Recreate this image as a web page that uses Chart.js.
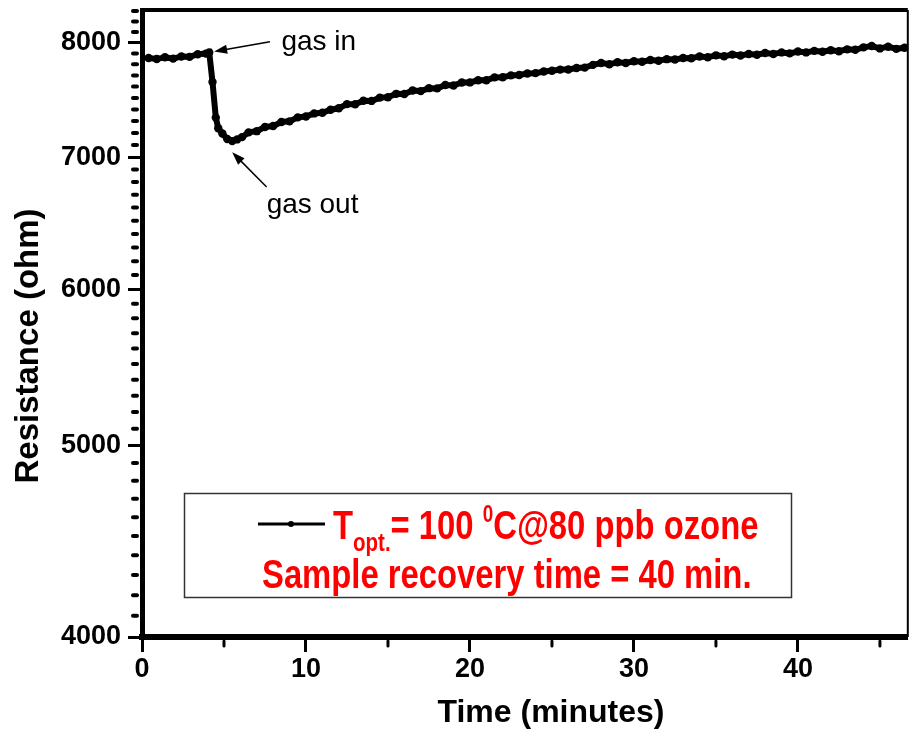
<!DOCTYPE html>
<html>
<head>
<meta charset="utf-8">
<script src="https://cdn.jsdelivr.net/npm/chart.js@4.4.1/dist/chart.umd.min.js"></script>
<style>
  html, body { margin: 0; padding: 0; background: #fff; }
</style>
</head>
<body>
<canvas id="chart" width="912" height="737"></canvas>
<script>
// values
const timeMin = [
  0.4, 0.9, 1.4, 1.9, 2.4, 2.9, 3.4, 3.9, 4.1, 4.3, 4.5, 4.65, 4.9, 5.2, 5.5, 5.8, 6.1,
  6.5, 7.0, 7.5, 8.0, 8.5, 9.0, 9.5, 10.0, 10.5, 11.0, 11.5, 12.0, 12.5, 13.0, 13.5, 14.0,
  14.5, 15.0, 15.5, 16.0, 16.5, 17.0, 17.5, 18.0, 18.5, 19.0, 19.5, 20.0, 20.5, 21.0, 21.5,
  22.0, 22.5, 23.0, 23.5, 24.0, 24.5, 25.0, 25.5, 26.0, 26.5, 27.0, 27.5, 28.0, 28.5, 29.0,
  29.5, 30.0, 30.5, 31.0, 31.5, 32.0, 32.5, 33.0, 33.5, 34.0, 34.5, 35.0, 35.5, 36.0, 36.5,
  37.0, 37.5, 38.0, 38.5, 39.0, 39.5, 40.0, 40.5, 41.0, 41.5, 42.0, 42.5, 43.0, 43.5, 44.0,
  44.5, 45.0, 45.5, 46.0, 46.5
];
const resistance = [
  7858, 7848, 7865, 7852, 7872, 7868, 7892, 7898, 7908, 7640, 7330, 7240, 7195, 7150, 7132, 7146, 7165,
  7205, 7215, 7250, 7258, 7292, 7298, 7332, 7340, 7366, 7372, 7398, 7410, 7446, 7445, 7476, 7474,
  7503, 7506, 7536, 7534, 7566, 7560, 7586, 7584, 7614, 7609, 7636, 7637, 7656, 7657, 7682,
  7683, 7700, 7703, 7717, 7720, 7735, 7741, 7752, 7753, 7767, 7770, 7795, 7812, 7800, 7819,
  7812, 7828, 7824, 7839, 7832, 7847, 7844, 7858, 7855, 7872, 7864, 7882, 7873, 7889, 7881,
  7895, 7887, 7903, 7895, 7909, 7900, 7917, 7909, 7923, 7915, 7929, 7920, 7937, 7933, 7956,
  7968, 7946, 7962, 7942, 7952
];

const xTicks = [0, 10, 20, 30, 40];
const xMinorTicks = [5, 15, 25, 35, 45];
const yTicks = [4000, 5000, 6000, 7000, 8000];
const yMinorTicks = [];
for (let v = 4100; v <= 8300; v += 100) {
  if (v % 1000 !== 0) yMinorTicks.push(v);
}

const xTitle = 'Time (minutes)';
const yTitle = 'Resistance (ohm)';
const legendLine1 = ['T', 'opt.', '= 100 ', '0', 'C@80 ppb ozone'];
const legendLine2 = 'Sample recovery time = 40 min.';

// arrows: tail and tip in data units, label anchor
const notes = [
  { text: 'gas in', tx: 8.5, ty: 7935, from: [7.8, 8009], to: [4.4, 7917] },
  { text: 'gas out', tx: 7.6, ty: 6560, from: [7.6, 6760], to: [5.5, 7040] }
];

const FONT = "'Liberation Sans', Arial, sans-serif";

function arrow(ctx, x1, y1, x2, y2) {
  const ang = Math.atan2(y2 - y1, x2 - x1);
  const head = 13;
  ctx.beginPath();
  ctx.moveTo(x1, y1);
  ctx.lineTo(x2 - Math.cos(ang) * head * 0.8, y2 - Math.sin(ang) * head * 0.8);
  ctx.stroke();
  ctx.beginPath();
  ctx.moveTo(x2, y2);
  ctx.lineTo(x2 - head * Math.cos(ang) + 4.5 * Math.sin(ang), y2 - head * Math.sin(ang) - 4.5 * Math.cos(ang));
  ctx.lineTo(x2 - head * Math.cos(ang) - 4.5 * Math.sin(ang), y2 - head * Math.sin(ang) + 4.5 * Math.cos(ang));
  ctx.closePath();
  ctx.fill();
}

// narrow bold text like the original legend
function squeezed(ctx, text, x, y, size, sx) {
  ctx.save();
  ctx.font = `bold ${size}px ${FONT}`;
  ctx.translate(x, y);
  ctx.scale(sx, 1);
  ctx.fillText(text, 0, 0);
  const w = ctx.measureText(text).width * sx;
  ctx.restore();
  return x + w;
}

const decorations = {
  id: 'decorations',
  afterDraw(chart) {
    const { ctx, chartArea: area, scales: { x, y } } = chart;
    ctx.save();
    ctx.strokeStyle = '#000';
    ctx.fillStyle = '#000';

    // top and right frame
    ctx.lineWidth = 4;
    ctx.beginPath();
    ctx.moveTo(area.left, area.top);
    ctx.lineTo(area.right, area.top);
    ctx.stroke();
    ctx.lineWidth = 2;
    ctx.beginPath();
    ctx.moveTo(area.right, area.top);
    ctx.lineTo(area.right, area.bottom);
    ctx.stroke();

    // minor ticks
    ctx.lineCap = 'round';
    ctx.lineWidth = 4;
    yMinorTicks.forEach(v => {
      const py = y.getPixelForValue(v);
      ctx.beginPath();
      ctx.moveTo(area.left - 9, py);
      ctx.lineTo(area.left - 5, py);
      ctx.stroke();
    });
    ctx.lineWidth = 3;
    xMinorTicks.forEach(v => {
      const px = x.getPixelForValue(v);
      ctx.beginPath();
      ctx.moveTo(px, area.bottom + 4);
      ctx.lineTo(px, area.bottom + 9);
      ctx.stroke();
    });
    ctx.lineCap = 'butt';

    // axis titles
    ctx.font = `bold 32px ${FONT}`;
    ctx.textAlign = 'center';
    ctx.textBaseline = 'alphabetic';
    ctx.fillText(xTitle, 551, 722);
    ctx.save();
    ctx.translate(29, 346);
    ctx.rotate(-Math.PI / 2);
    ctx.font = `bold 33px ${FONT}`;
    ctx.textBaseline = 'middle';
    ctx.fillText(yTitle, 0, 0);
    ctx.restore();

    // annotations
    ctx.textAlign = 'left';
    ctx.textBaseline = 'alphabetic';
    ctx.font = `28px ${FONT}`;
    ctx.lineWidth = 1.5;
    notes.forEach(n => {
      ctx.fillText(n.text, x.getPixelForValue(n.tx), y.getPixelForValue(n.ty));
      arrow(ctx,
        x.getPixelForValue(n.from[0]), y.getPixelForValue(n.from[1]),
        x.getPixelForValue(n.to[0]), y.getPixelForValue(n.to[1]));
    });

    // legend box
    ctx.strokeStyle = '#333';
    ctx.lineWidth = 1.5;
    ctx.strokeRect(184.5, 493.5, 607, 104);
    ctx.strokeStyle = '#000';
    ctx.lineWidth = 3;
    ctx.beginPath();
    ctx.moveTo(258, 524);
    ctx.lineTo(325, 524);
    ctx.stroke();
    ctx.beginPath();
    ctx.arc(291, 524, 3, 0, Math.PI * 2);
    ctx.fill();

    ctx.fillStyle = '#ff0000';
    let cx = squeezed(ctx, legendLine1[0], 333, 539, 40, 0.82);
    cx = squeezed(ctx, legendLine1[1], cx, 551, 25, 0.82);
    cx = squeezed(ctx, legendLine1[2], cx, 539, 40, 0.82);
    cx = squeezed(ctx, legendLine1[3], cx, 522, 23, 0.82);
    squeezed(ctx, legendLine1[4], cx, 539, 40, 0.82);
    squeezed(ctx, legendLine2, 262, 588, 40, 0.82);

    ctx.restore();
  }
};

new Chart(document.getElementById('chart'), {
  type: 'line',
  data: {
    datasets: [{
      data: timeMin.map((t, i) => ({ x: t, y: resistance[i] })),
      borderColor: '#000',
      backgroundColor: '#000',
      borderWidth: 6,
      pointRadius: 4.2,
      pointBorderWidth: 0,
      pointHoverRadius: 0,
      tension: 0
    }]
  },
  options: {
    responsive: false,
    animation: false,
    events: [],
    layout: { padding: { top: 10, right: 3, left: 0, bottom: 0 } },
    plugins: {
      legend: { display: false },
      tooltip: { enabled: false }
    },
    scales: {
      x: {
        type: 'linear',
        min: 0,
        max: 46.7,
        afterBuildTicks: s => { s.ticks = xTicks.map(v => ({ value: v })); },
        afterFit: s => {
          s.height = 100;
          s.paddingLeft = 0;
          s.paddingRight = 0;
        },
        border: { display: true, width: 6, color: '#000' },
        grid: { drawOnChartArea: false, tickLength: 15, tickWidth: 3, tickColor: '#000' },
        ticks: {
          color: '#000',
          padding: 1,
          autoSkip: false,
          maxRotation: 0,
          font: { family: FONT, size: 27, weight: 'bold' },
          callback: v => String(v)
        }
      },
      y: {
        type: 'logarithmic',
        min: 4000,
        max: 8310,
        bounds: 'data',
        afterBuildTicks: s => { s.ticks = yTicks.map(v => ({ value: v })); },
        afterFit: s => {
          s.width = 142;
          s.paddingTop = 0;
          s.paddingBottom = 0;
        },
        border: { display: true, width: 5, color: '#000' },
        grid: { drawOnChartArea: false, tickLength: 14, tickWidth: 3, tickColor: '#000' },
        ticks: {
          color: '#000',
          padding: 7,
          autoSkip: false,
          font: { family: FONT, size: 27, weight: 'bold' },
          callback: v => String(v)
        }
      }
    }
  },
  plugins: [decorations]
});
</script>
</body>
</html>
